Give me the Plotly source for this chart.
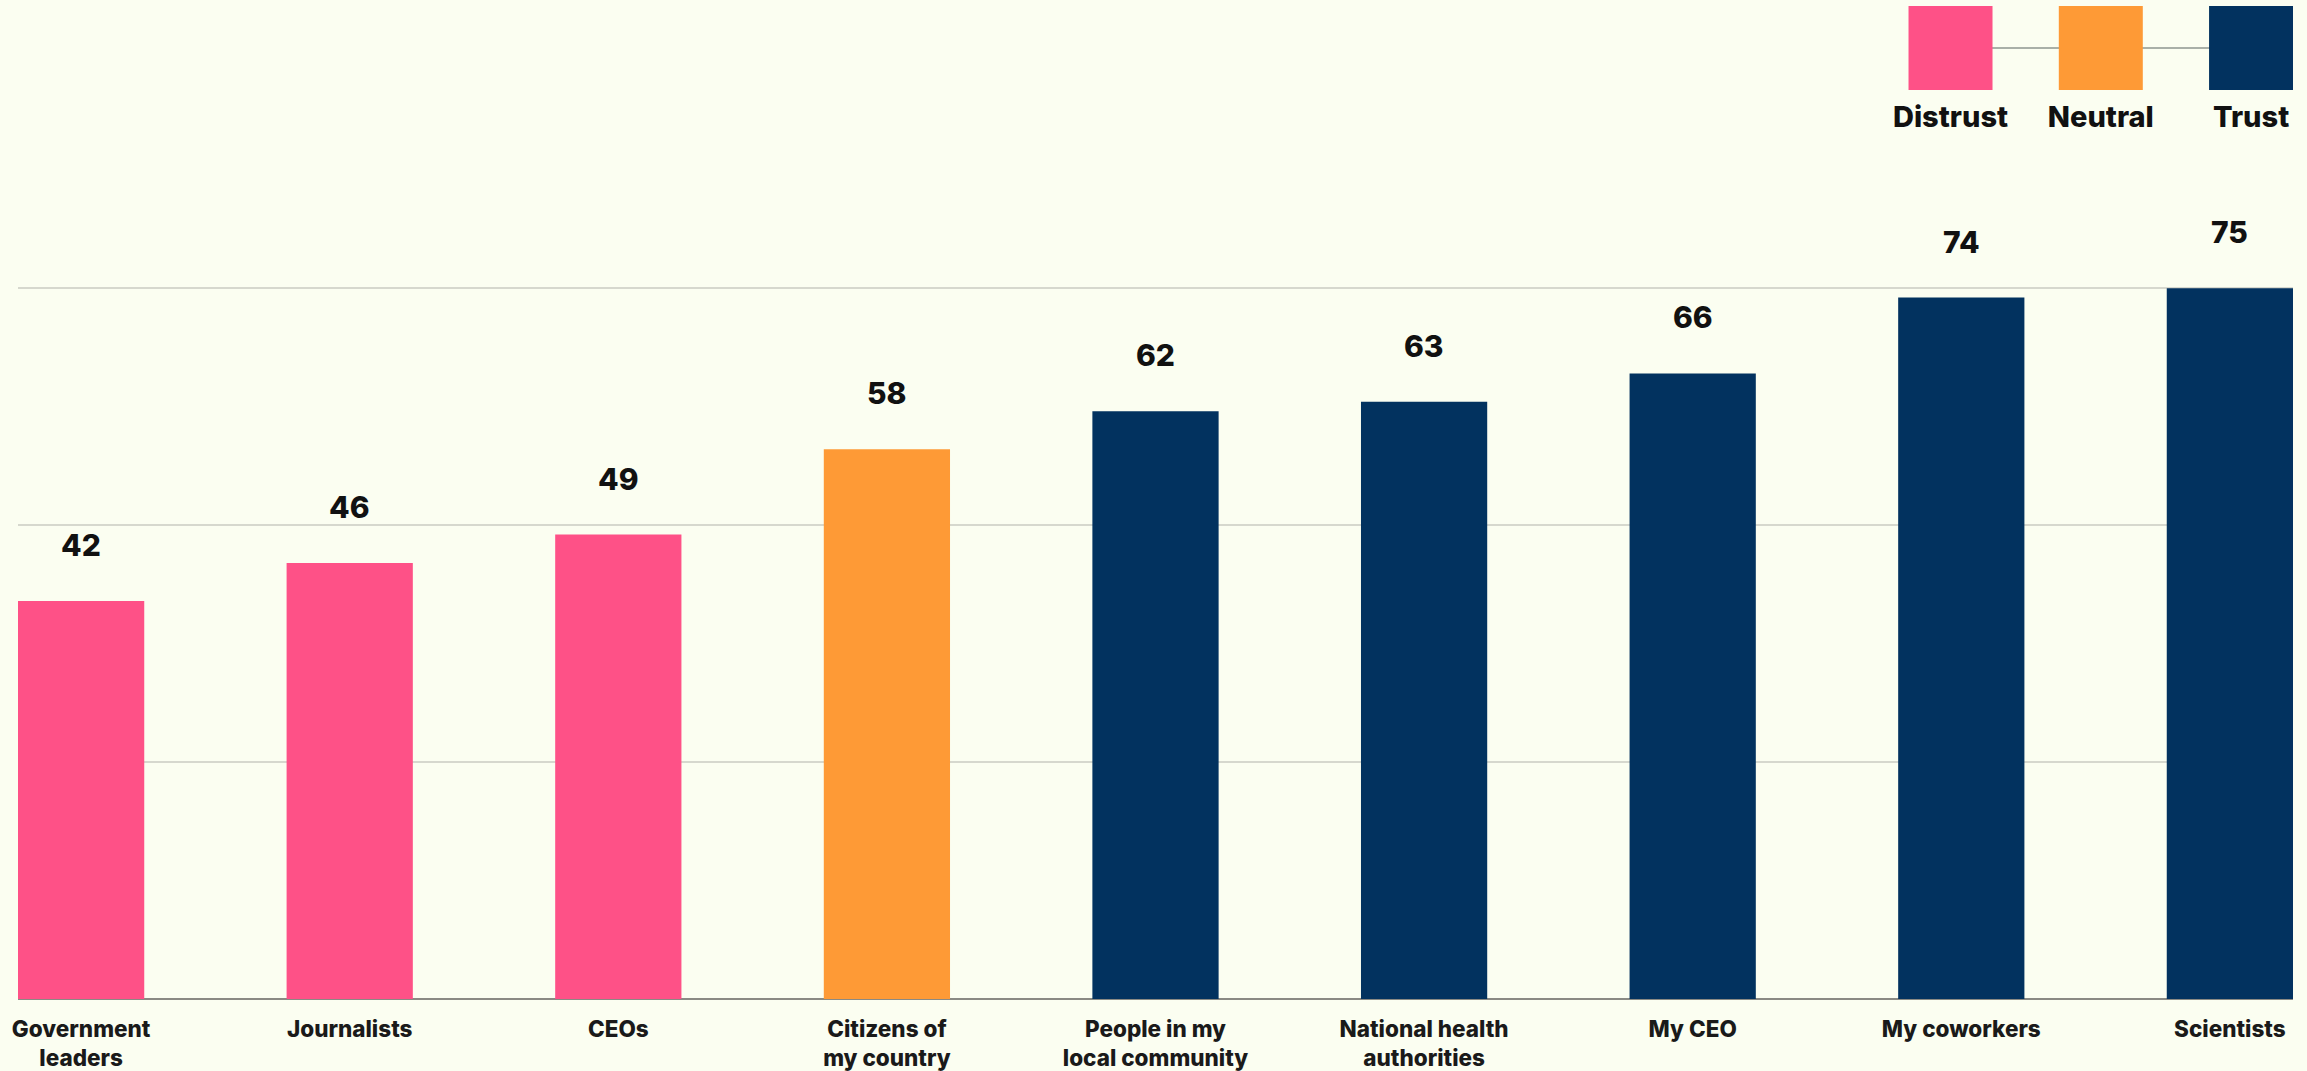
import plotly.graph_objects as go

categories = ["Government<br>leaders", "Journalists", "CEOs", "Citizens of<br>my country",
              "People in my<br>local community", "National health<br>authorities", "My CEO",
              "My coworkers", "Scientists"]
values = [42, 46, 49, 58, 62, 63, 66, 74, 75]
sentiment = ["Distrust", "Distrust", "Distrust", "Neutral", "Trust", "Trust", "Trust", "Trust", "Trust"]
legend_labels = ["Distrust", "Neutral", "Trust"]
grid_ticks = [0, 25, 50, 75]

palette = {"Distrust": "#FE5187", "Neutral": "#FE9A36", "Trust": "#02325F"}
BG = "#FBFEF1"
FONT = "Inter"

fig = go.Figure()

fig.add_trace(go.Bar(
    x=categories, y=values,
    marker=dict(color=[palette[s] for s in sentiment], line=dict(width=0)),
    hoverinfo="x+y", showlegend=False,
))

for c, v in zip(categories, values):
    fig.add_annotation(x=c, y=v, text=str(v), showarrow=False, yshift=56,
                       yanchor="middle", xref="x", yref="y",
                       font=dict(family=FONT, size=30, color="#111111", weight=800))

# custom legend (squares joined by a line)
fig.add_trace(go.Scatter(
    x=legend_labels, y=[0, 0, 0], xaxis="x2", yaxis="y2",
    mode="lines+markers",
    line=dict(color="#A9B0A8", width=2),
    marker=dict(symbol="square", size=84, color=[palette[s] for s in legend_labels],
                line=dict(width=0)),
    showlegend=False, hoverinfo="skip",
))
fig.add_trace(go.Scatter(
    x=legend_labels, y=[-1.5] * 3, xaxis="x2", yaxis="y2",
    mode="text", text=legend_labels, textposition="middle center",
    textfont=dict(family=FONT, size=29, color="#111111", weight=800),
    showlegend=False, hoverinfo="skip",
))

fig.update_layout(
    width=2307, height=1071,
    margin=dict(l=18, r=14, t=0, b=72),
    paper_bgcolor=BG, plot_bgcolor=BG,
    bargap=0.53,
    xaxis=dict(range=[-0.235, 8.235], showgrid=False, zeroline=False, showline=False,
               tickfont=dict(family=FONT, size=22.5, color="#1A1A1A", weight=800),
               ticks="", ticklabelstandoff=14, fixedrange=True),
    yaxis=dict(range=[0, 105.4], tickvals=grid_ticks, showticklabels=False,
               showgrid=True, gridcolor="#D6D8CE", gridwidth=2,
               zeroline=True, zerolinecolor="#8A8A84", zerolinewidth=2,
               showline=False, fixedrange=True),
    xaxis2=dict(domain=[0.82, 1.0], anchor="y2", range=[-0.446, 2.279],
                type="category", visible=False, fixedrange=True),
    yaxis2=dict(domain=[0.85, 1.0], anchor="x2", range=[-2.125, 1.0],
                visible=False, fixedrange=True),
    showlegend=False,
)

fig.write_html("out.html")
